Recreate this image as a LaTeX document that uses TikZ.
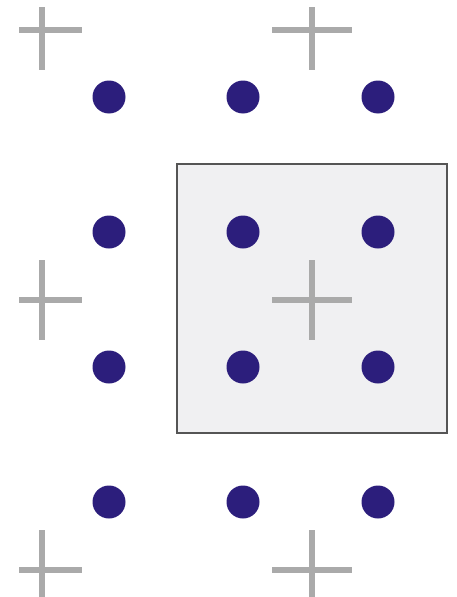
\documentclass[tikz,border=0pt]{standalone}
\definecolor{dotblue}{RGB}{44,30,124}
\definecolor{crossgray}{RGB}{170,170,170}
\definecolor{cellfill}{RGB}{240,240,242}
\definecolor{cellline}{RGB}{85,85,85}
\tikzset{
  crossmark/.style={draw=crossgray,line width=6pt},
  atom/.style={fill=dotblue},
  cell/.style={draw=cellline,fill=cellfill,line width=2.5pt}
}
\begin{document}
\begin{tikzpicture}[x=1pt,y=-1pt]
\useasboundingbox (0,0) rectangle (456,597);
\fill[white] (0,0) rectangle (456,597);
\draw[cell] (177,164) rectangle (447,433);
\begin{scope}
\clip (19,7) rectangle (456,597);
\foreach \cx in {42,312}{
  \foreach \cy in {30,300,570}{
    \draw[crossmark] (\cx-40,\cy) -- (\cx+40,\cy);
    \draw[crossmark] (\cx,\cy-40) -- (\cx,\cy+40);
  }
}
\end{scope}
\foreach \dx in {109,243,378}{
  \foreach \dy in {97,232,367,502}{
    \fill[atom] (\dx,\dy) circle (16.5);
  }
}
\end{tikzpicture}
\end{document}
